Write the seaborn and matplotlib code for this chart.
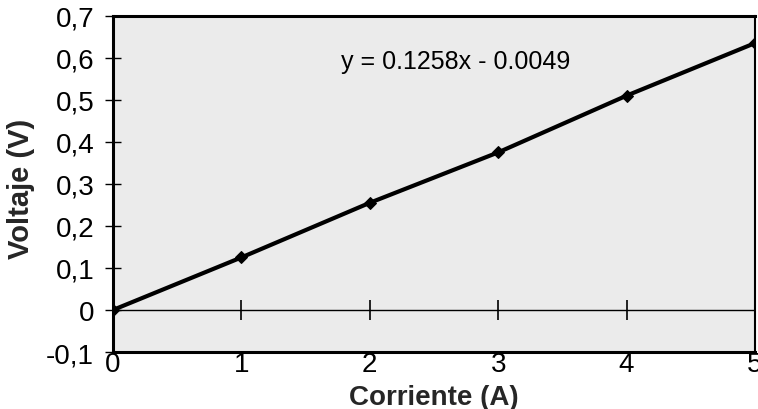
import matplotlib
matplotlib.use("Agg")
import matplotlib.pyplot as plt
import seaborn as sns
import pandas as pd

corriente = [0, 1, 2, 3, 4, 5]
voltaje = [0.0, 0.125, 0.255, 0.375, 0.51, 0.635]
x_ticks = [0, 1, 2, 3, 4, 5]
y_ticks = [-0.1, 0.0, 0.1, 0.2, 0.3, 0.4, 0.5, 0.6, 0.7]
y_tick_labels = ["-0,1", "0", "0,1", "0,2", "0,3", "0,4", "0,5", "0,6", "0,7"]
equation = "y = 0.1258x - 0.0049"

sns.set_theme(style="white")
plt.rcParams["font.family"] = ["Liberation Sans", "DejaVu Sans"]

df = pd.DataFrame({"Corriente (A)": corriente, "Voltaje (V)": voltaje})

fig = plt.figure(figsize=(7.58, 4.10), dpi=100)
ax = fig.add_axes([0.149, 0.139, 0.847, 0.82])
ax.set_facecolor("#ebebeb")

# zero line with cross ticks
ax.axhline(0, color="black", lw=1.0, zorder=1)
ax.plot(x_ticks[1:-1], [0] * len(x_ticks[1:-1]), linestyle="none",
        marker="|", markersize=14, markeredgewidth=1.2, color="black", zorder=1)

sns.lineplot(data=df, x="Corriente (A)", y="Voltaje (V)", ax=ax, color="black",
             lw=3, marker="D", markersize=6, markeredgecolor="black", zorder=3)

ax.set_xlim(0, 5)
ax.set_ylim(-0.1, 0.7)
ax.set_xticks(x_ticks)
ax.set_xticklabels([str(t) for t in x_ticks])
ax.set_yticks(y_ticks)
ax.set_yticklabels(y_tick_labels)

ax.tick_params(axis="y", direction="inout", length=11, width=1, left=True,
               labelsize=20, pad=8, colors="black")
ax.tick_params(axis="x", direction="in", length=0, labelsize=20, pad=-1, colors="black")

for side in ["left", "bottom", "top", "right"]:
    ax.spines[side].set_visible(True)
    ax.spines[side].set_color("black")
ax.spines["left"].set_linewidth(2.2)
ax.spines["bottom"].set_linewidth(2.2)
ax.spines["top"].set_linewidth(2.2)
ax.spines["right"].set_linewidth(1.5)

ax.set_xlabel("Corriente (A)", fontsize=20, fontweight="bold")
ax.xaxis.set_label_coords(0.5, -0.095, transform=ax.transAxes)
ax.xaxis.label.set_va("top")
ax.set_ylabel("Voltaje (V)", fontsize=21, fontweight="bold")
ax.yaxis.set_label_coords(-0.122, 0.488, transform=ax.transAxes)

ax.text(2.67, 0.593, equation, fontsize=18, ha="center", va="center", color="black")

fig.savefig("out.png", dpi=100)
